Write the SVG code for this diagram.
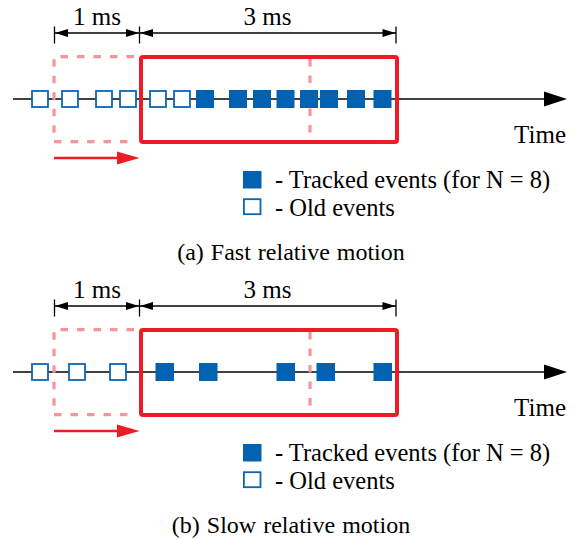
<svg xmlns="http://www.w3.org/2000/svg" width="580" height="540" viewBox="0 0 580 540">
<style>
text{font-family:"Liberation Serif","Times New Roman",serif;fill:#000}
.lbl{font-size:25px}
.leg{font-size:24.5px}
.cap{font-size:24px}
.dim{stroke:#000;stroke-width:1.3;fill:none}
.axis{stroke:#000;stroke-width:1.6;fill:none}
.win{stroke:#ED1C24;stroke-width:4;fill:none}
.old{stroke:#F4959A;stroke-width:3.2;fill:none;stroke-dasharray:7.5 9}
.mv{stroke:#ED1C24;stroke-width:2.5;fill:none}
.ev{fill:#0062B1}
.oe{fill:#fff;stroke:#0A66B2;stroke-width:1.8}
</style>
<defs>
<g id="frame">
<line class="dim" x1="55" y1="33" x2="396" y2="33"/>
<line class="dim" x1="54.5" y1="26.5" x2="54.5" y2="43.5"/>
<line class="dim" x1="139.5" y1="26.5" x2="139.5" y2="43.5"/>
<line class="dim" x1="396" y1="26.5" x2="396" y2="43.5"/>
<polygon points="55,33 68,29 68,37" fill="#000"/>
<polygon points="139,33 126,29 126,37" fill="#000"/>
<polygon points="140,33 153,29 153,37" fill="#000"/>
<polygon points="395.5,33 382.5,29 382.5,37" fill="#000"/>
<line class="axis" x1="13" y1="99" x2="546" y2="99"/>
<polygon points="544,91.5 567,99 544,106.5" fill="#000"/>
<path class="old" d="M134,56.7 H54 V141.7 H134"/>
<line class="old" x1="310" y1="59" x2="310" y2="140"/>
<rect class="win" x="141" y="57" width="256" height="85" rx="2"/>
<line class="mv" x1="54" y1="158" x2="120" y2="158"/>
<polygon points="117,151.5 139.5,158 117,164.5" fill="#ED1C24"/>
</g>
</defs>

<g id="connectors">
<use href="#frame"/>
<use href="#frame" transform="translate(0,273)"/>
</g>

<g id="panel-a">
<text class="lbl" x="97" y="25" text-anchor="middle">1 ms</text>
<text class="lbl" x="267.5" y="25" text-anchor="middle">3 ms</text>
<text class="lbl" x="566" y="142.5" text-anchor="end">Time</text>
<g id="a-old">
<rect class="oe" x="32" y="91" width="16" height="16"/>
<rect class="oe" x="62" y="91" width="16" height="16"/>
<rect class="oe" x="96" y="91" width="16" height="16"/>
<rect class="oe" x="120" y="91" width="16" height="16"/>
<rect class="oe" x="150" y="91" width="16" height="16"/>
<rect class="oe" x="174" y="91" width="16" height="16"/>
</g>
<g id="a-tracked">
<rect class="ev" x="196" y="90" width="18" height="18"/>
<rect class="ev" x="229" y="90" width="18" height="18"/>
<rect class="ev" x="253" y="90" width="18" height="18"/>
<rect class="ev" x="276.5" y="90" width="18" height="18"/>
<rect class="ev" x="300" y="90" width="18" height="18"/>
<rect class="ev" x="320" y="90" width="18" height="18"/>
<rect class="ev" x="347" y="90" width="18" height="18"/>
<rect class="ev" x="373.5" y="90" width="18" height="18"/>
</g>
<g id="a-legend">
<rect class="ev" x="243" y="171" width="18.5" height="17.5"/>
<text class="leg" x="275" y="187.5">- Tracked events (for N = 8)</text>
<rect class="oe" x="243.9" y="199.2" width="16.6" height="15"/>
<text class="leg" x="275" y="215.5">- Old events</text>
</g>
<text class="cap" x="291" y="260" text-anchor="middle" word-spacing="1">(a) Fast relative motion</text>
</g>

<g id="panel-b">
<text class="lbl" x="97" y="298" text-anchor="middle">1 ms</text>
<text class="lbl" x="267.5" y="298" text-anchor="middle">3 ms</text>
<text class="lbl" x="566" y="416" text-anchor="end">Time</text>
<g id="b-old">
<rect class="oe" x="32" y="364" width="16" height="16"/>
<rect class="oe" x="69" y="364" width="16" height="16"/>
<rect class="oe" x="110" y="364" width="16" height="16"/>
</g>
<g id="b-tracked">
<rect class="ev" x="155.5" y="363" width="18.5" height="18"/>
<rect class="ev" x="199" y="363" width="18.5" height="18"/>
<rect class="ev" x="276.5" y="363" width="18.5" height="18"/>
<rect class="ev" x="316.5" y="363" width="18.5" height="18"/>
<rect class="ev" x="373.5" y="363" width="18.5" height="18"/>
</g>
<g id="b-legend">
<rect class="ev" x="243" y="444" width="18.5" height="17.5"/>
<text class="leg" x="275" y="460.5">- Tracked events (for N = 8)</text>
<rect class="oe" x="243.9" y="472.2" width="16.6" height="15"/>
<text class="leg" x="275" y="488.5">- Old events</text>
</g>
<text class="cap" x="291" y="533" text-anchor="middle" word-spacing="1">(b) Slow relative motion</text>
</g>
</svg>
